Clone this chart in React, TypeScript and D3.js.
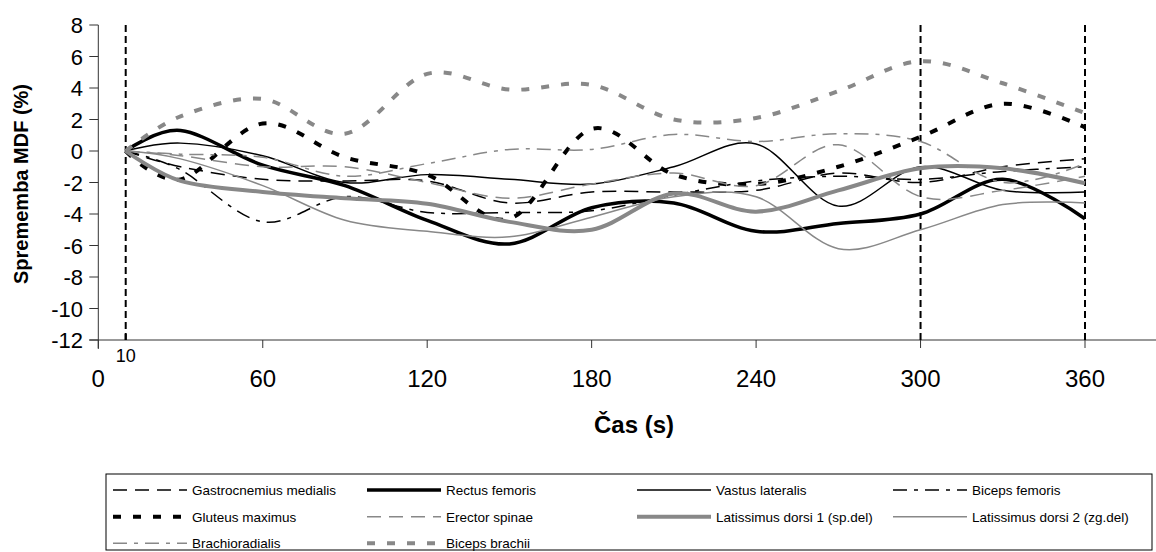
import React from 'react';
import * as d3 from 'd3';

const times = [10, 30, 60, 90, 120, 150, 180, 210, 240, 270, 300, 330, 360];
const gastrocnemius = [0, -1.0, -1.8, -1.9, -1.9, -3.3, -2.6, -2.6, -2.5, -1.4, -2.0, -1.0, -0.5];
const rectus = [0, 1.3, -0.9, -2.2, -4.4, -5.9, -3.6, -3.3, -5.1, -4.6, -4.0, -1.8, -4.3];
const vastus = [0, 0.5, -0.3, -2.0, -1.5, -1.8, -2.1, -1.0, 0.45, -3.5, -1.0, -2.5, -2.6];
const bicepsFemoris = [0, -1.2, -4.5, -2.9, -3.9, -3.9, -3.8, -2.8, -1.9, -1.6, -1.8, -1.3, -1.0];
const gluteus = [0, -1.8, 1.75, -0.4, -1.5, -4.3, 1.4, -1.5, -2.1, -1.0, 0.9, 3.0, 1.5];
const erector = [0, -0.3, -1.0, -1.0, -2.0, -3.0, -2.1, -1.4, -2.2, 0.4, -2.9, -2.5, -1.6];
const latissimus1 = [0, -1.9, -2.6, -3.0, -3.35, -4.5, -5.0, -2.7, -3.85, -2.5, -1.1, -1.1, -2.05];
const latissimus2 = [0, -0.5, -2.2, -4.4, -5.1, -5.45, -4.2, -2.9, -2.9, -6.2, -5.0, -3.4, -3.3];
const brachioradialis = [0, -0.2, -0.4, -1.6, -0.8, 0.1, 0.1, 1.05, 0.6, 1.1, 0.6, -2.0, -0.8];
const bicepsBrachii = [0, 2.2, 3.3, 1.1, 4.9, 3.9, 4.2, 2.0, 2.1, 3.8, 5.7, 4.3, 2.4];

const yTicks = [-12, -10, -8, -6, -4, -2, 0, 2, 4, 6, 8];
const xTicks = [0, 60, 120, 180, 240, 300, 360];
const markers = [10, 300, 360];

const GRAY = '#888888';
const series = [
  { name: 'Gastrocnemius medialis', values: gastrocnemius, color: '#000', w: 1.5, dash: '14,8' },
  { name: 'Rectus femoris', values: rectus, color: '#000', w: 3.5, dash: '' },
  { name: 'Vastus lateralis', values: vastus, color: '#000', w: 1.5, dash: '' },
  { name: 'Biceps femoris', values: bicepsFemoris, color: '#000', w: 1.5, dash: '14,7,4,7' },
  { name: 'Gluteus maximus', values: gluteus, color: '#000', w: 4, dash: '8,12' },
  { name: 'Erector spinae', values: erector, color: GRAY, w: 1.5, dash: '14,8' },
  { name: 'Latissimus dorsi 1 (sp.del)', values: latissimus1, color: GRAY, w: 4, dash: '' },
  { name: 'Latissimus dorsi 2 (zg.del)', values: latissimus2, color: GRAY, w: 1.5, dash: '' },
  { name: 'Brachioradialis', values: brachioradialis, color: GRAY, w: 1.5, dash: '14,7,4,7' },
  { name: 'Biceps brachii', values: bicepsBrachii, color: GRAY, w: 4, dash: '8,12' },
];

const FONT = '"Liberation Sans", Arial, sans-serif';

export default function App() {
  const x = d3.scaleLinear().domain([0, 360]).range([98.3, 1085]);
  const y = d3.scaleLinear().domain([-12, 8]).range([340, 25]);
  const line = d3
    .line<number>()
    .x((_, i) => x(times[i]))
    .y((d) => y(d))
    .curve(d3.curveCardinal.tension(0));

  const legCols = [113, 367, 637, 893];
  const legRows = [490, 516.7, 543.3];

  return (
    <svg width={1156} height={552} style={{ position: 'absolute', left: 0, top: 0, background: '#fff' }} fontFamily={FONT}>
      {/* axes */}
      <line x1={x(0)} x2={x(0)} y1={y(8)} y2={y(-12) + 9} stroke="#333" strokeWidth={1} />
      <line x1={x(0) - 9} x2={1156} y1={y(-12)} y2={y(-12)} stroke="#333" strokeWidth={1} />
      {yTicks.map((t) => (
        <g key={'y' + t}>
          <line x1={x(0) - 9} x2={x(0)} y1={y(t)} y2={y(t)} stroke="#333" />
          <text x={83} y={y(t) + 8} fontSize={22} textAnchor="end" fill="#000">{t}</text>
        </g>
      ))}
      {xTicks.map((t) => (
        <g key={'x' + t}>
          <line x1={x(t)} x2={x(t)} y1={y(-12)} y2={y(-12) + 8} stroke="#333" />
          <text x={x(t)} y={387} fontSize={24} textAnchor="middle" fill="#000">{t}</text>
        </g>
      ))}
      <line x1={x(10)} x2={x(10)} y1={y(-12) - 6} y2={y(-12)} stroke="#000" strokeWidth={2} />
      <text x={x(10)} y={362} fontSize={18} textAnchor="middle" fill="#000">10</text>

      {/* marker lines */}
      {markers.map((m) => (
        <line key={'m' + m} x1={x(m)} x2={x(m)} y1={y(8)} y2={y(-12)} stroke="#000" strokeWidth={2} strokeDasharray="7,4" />
      ))}

      {/* series */}
      {series.map((s) => (
        <path key={s.name} d={line(s.values) || ''} fill="none" stroke={s.color} strokeWidth={s.w} strokeDasharray={s.dash || undefined} />
      ))}

      {/* axis titles */}
      <text transform={`translate(28,184) rotate(-90)`} fontSize={20} fontWeight="bold" textAnchor="middle" fill="#000">Sprememba MDF (%)</text>
      <text x={634} y={433} fontSize={24} fontWeight="bold" textAnchor="middle" fill="#000">Čas (s)</text>

      {/* legend */}
      <rect x={106} y={474} width={1046} height={76} fill="none" stroke="#000" strokeWidth={1} />
      {series.map((s, i) => {
        const cx = legCols[i % 4];
        const cy = legRows[Math.floor(i / 4)];
        return (
          <g key={'l' + s.name}>
            <line x1={cx} x2={cx + 74} y1={cy} y2={cy} stroke={s.color} strokeWidth={s.w} strokeDasharray={s.dash || undefined} />
            <text x={cx + 79} y={cy + 5} fontSize={13.5} fill="#000">{s.name}</text>
          </g>
        );
      })}
    </svg>
  );
}
